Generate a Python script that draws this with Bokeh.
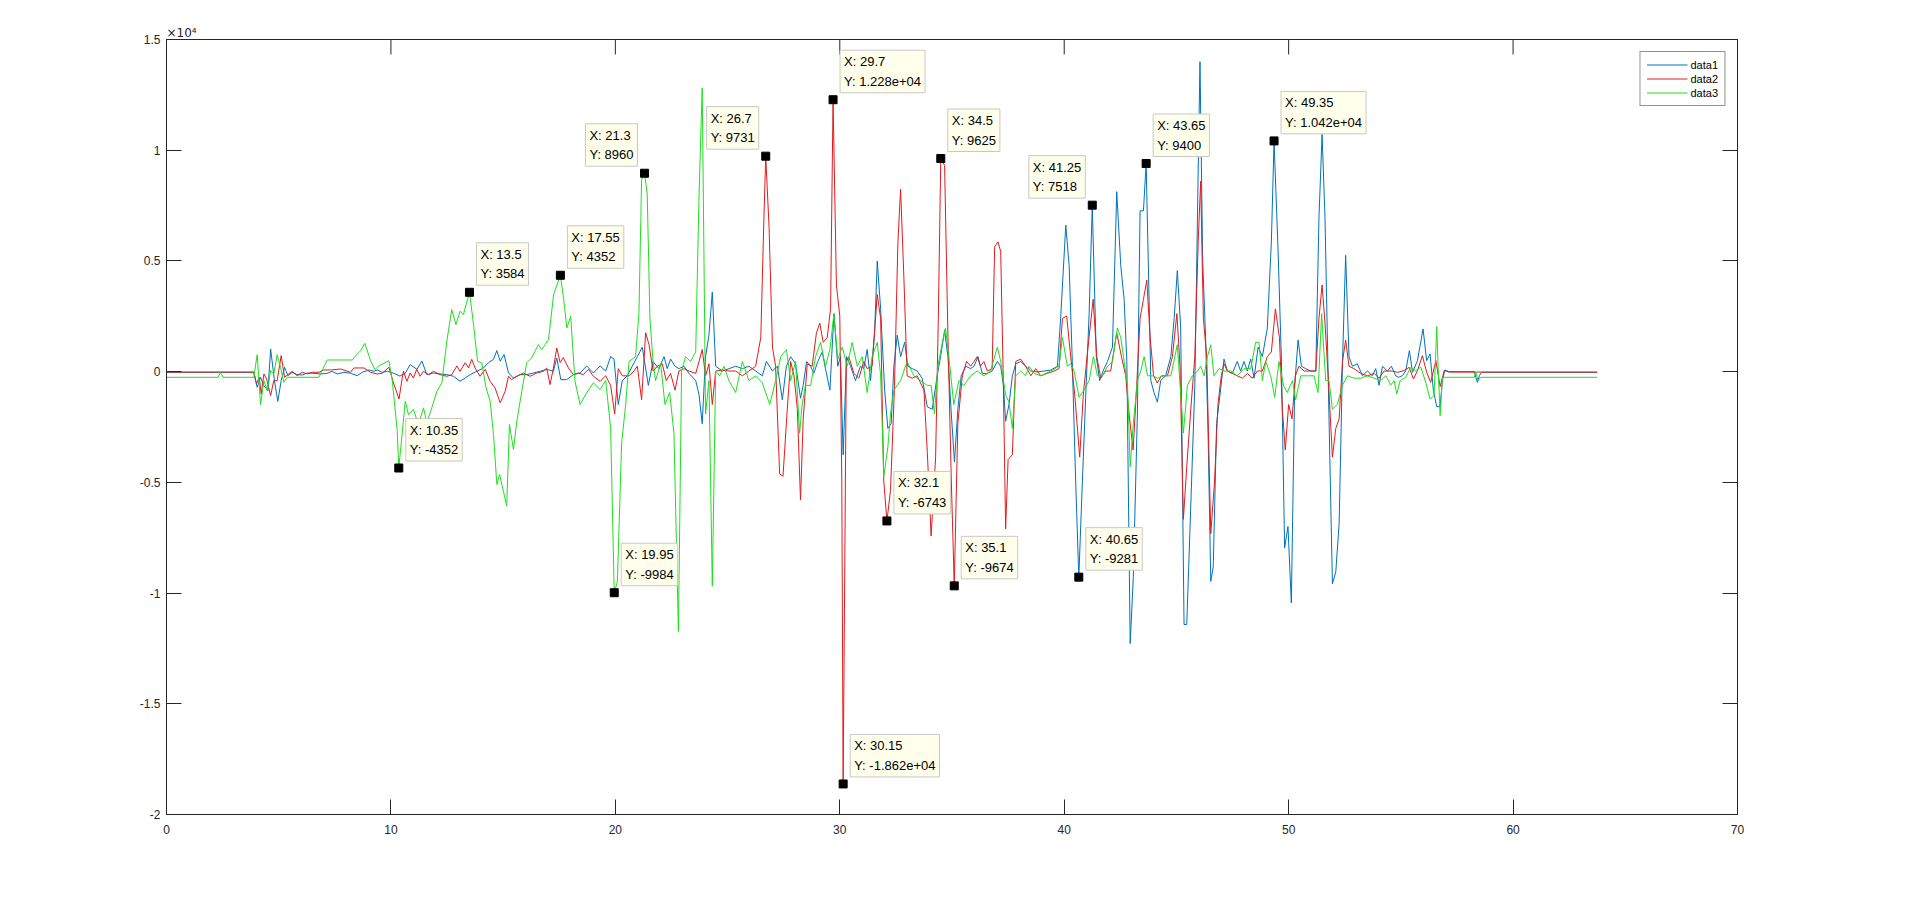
import math
from bokeh.plotting import figure
from bokeh.models import (Range1d, FixedTicker, LinearAxis, CustomJSTickFormatter,
                          ColumnDataSource, Legend)
from bokeh.core.properties import value
from bokeh.embed import file_html
from bokeh.resources import INLINE

# ---------------- data ----------------
d1_x = [0, 3.89, 4.04, 4.19, 4.34, 4.52, 4.64, 4.81, 4.96, 5.11, 5.26, 5.41, 5.6, 5.82, 6.05, 6.27,
        6.57, 6.86, 7.16, 7.38, 7.61, 7.9, 8.2, 8.5, 8.72, 9.02, 9.24, 9.39, 9.61, 9.84, 10.13, 10.4,
        10.64, 10.86, 11.16, 11.38, 11.6, 11.9, 12.19, 12.49, 12.79, 13.08, 13.31, 13.53, 13.83, 14.12,
        14.35, 14.57, 14.72, 14.87, 15.04, 15.24, 15.46, 15.76, 16.05, 16.35, 16.65, 16.94, 17.24, 17.39,
        17.57, 17.83, 18.13, 18.43, 18.72, 19.02, 19.32, 19.57, 19.79, 19.94, 20.13, 20.31, 20.53, 20.75,
        20.98, 21.2, 21.47, 21.68, 21.94, 22.17, 22.31, 22.46, 22.66, 22.83, 23.06, 23.28, 23.58, 23.73,
        23.87, 24.02, 24.17, 24.32, 24.47, 24.77, 25.06, 25.36, 25.66, 25.95, 26.25, 26.55, 26.73, 27.0,
        27.22, 27.44, 27.62, 27.81, 28.03, 28.25, 28.37, 28.52, 28.7, 28.84, 29.02, 29.22, 29.36, 29.56,
        29.74, 29.91, 30.03, 30.15, 30.3, 30.48, 30.7, 30.92, 31.07, 31.22, 31.37, 31.55, 31.67, 31.82,
        32.0, 32.14, 32.29, 32.41, 32.56, 32.71, 32.89, 33.03, 33.23, 33.45, 33.67, 33.9, 34.12, 34.34,
        34.49, 34.67, 34.82, 34.97, 35.11, 35.26, 35.41, 35.61, 35.83, 35.98, 36.16, 36.35, 36.57, 36.79,
        37.02, 37.17, 37.29, 37.39, 37.54, 37.69, 37.84, 38.06, 38.28, 38.51, 38.8, 39.1, 39.4, 39.7,
        39.84, 40.07, 40.22, 40.36, 40.51, 40.65, 40.81, 40.96, 41.11, 41.25, 41.43, 41.58, 41.73, 41.93,
        42.15, 42.34, 42.52, 42.67, 42.79, 42.94, 43.08, 43.26, 43.38, 43.53, 43.65, 43.86, 44.0, 44.15,
        44.3, 44.52, 44.75, 44.9, 45.04, 45.19, 45.34, 45.46, 45.64, 45.82, 45.97, 46.05, 46.17, 46.3,
        46.41, 46.53, 46.64, 46.79, 46.94, 47.12, 47.27, 47.49, 47.71, 47.86, 48.01, 48.16, 48.31, 48.46,
        48.64, 48.83, 49.05, 49.23, 49.35, 49.53, 49.68, 49.82, 49.97, 50.12, 50.27, 50.42, 50.57, 50.76,
        50.98, 51.21, 51.35, 51.49, 51.62, 51.76, 51.95, 52.1, 52.25, 52.4, 52.54, 52.69, 52.84, 53.06,
        53.29, 53.51, 53.73, 53.88, 54.03, 54.18, 54.4, 54.58, 54.77, 54.9, 55.07, 55.22, 55.38, 55.52,
        55.74, 55.99, 56.15, 56.3, 56.45, 56.6, 56.75, 56.85, 56.96, 57.15, 58.27, 58.34, 58.41, 58.5,
        58.59, 63.75]
d1_y = [-30, -30, -708, -256, -633, -858, 1024, -407, -1340, -407, 196, -181, -30, -136, -151, -60,
        -75, -105, -75, 15, -105, -30, -75, -181, -30, 75, 15, 75, -30, 15, -75, -200,
        -60, 316, 105, 481, -135, -60, -105, -135, -210, -436, -286, -135, 15, 165,
        406, 557, 952, 471, 772, -60, -286, -135, -135, -60, 15, 105, 15, 617,
        -361, -361, -135, -60, 256, -60, 256, 28, 676, 568, -1484, -404, -188, 244,
        676, 1108, -620, 460, 136, 676, 136, 568, 244, 136, 244, -80, -404, -1052,
        -2348, 676, 1648, 3592, 244, 28, 136, 244, 136, 244, 28, -188, 460, 28,
        244, -1268, 244, 676, 352, -1200, -620, 460, 244, -80, 460, 892, 136, -836,
        2620, 244, 676, -3752, 676, 244, -404, 244, 136, 1000, -404, 1756, 4996, 2836,
        -836, -2564, -2348, 244, 1648, 676, 1324, 244, 136, 28, -296, -1592, -1700, -188,
        676, 1864, 676, -1916, -4076, -1700, -188, 244, 136, 244, 676, -80, -80, 28,
        460, 244, -620, -2240, -1484, -188, 352, 460, 244, 28, -15, 28, 72, 244,
        2404, 6616, 4780, 460, -4940, -9281, -4940, -1052, 2620, 7518, 676, -404, 28, 460,
        1108, 8128, 4780, 3268, 460, -12284, -9260, -1916, 7264, 7264, 9400, -404, -944, -1376,
        -404, -188, 676, 2404, 4564, 1972, -11420, -11420, -6020, -620, 9100, 14000, 5000, 1540,
        -2780, -9476, -8828, -2348, -1052, 568, 28, -80, 460, 28, 460, 28, 568, -296,
        1108, 676, 1972, 5860, 10420, 5428, 460, -7964, -6992, -10448, -620, 1432, 244, 136,
        28, 28, 6940, 10720, 6940, -188, -9584, -9044, -6884, 460, 5255, 676, 244, 352,
        -188, 28, -188, 136, -620, 244, 28, 244, -188, -256, -181, 45, 949, -30,
        497, 1928, 497, 798, -858, -1581, -1581, -407, 75, 0, 0, -256, -482, -181,
        -30, -30]

d2_x = [0, 3.89, 4.01, 4.13, 4.22, 4.34, 4.46, 4.64, 4.78, 4.93, 5.11, 5.26, 5.45, 5.6, 5.82, 6.05,
        6.27, 6.49, 6.79, 7.01, 7.31, 7.76, 8.2, 8.35, 8.8, 9.09, 9.39, 9.61, 9.91, 10.13, 10.36, 10.5,
        10.56, 10.71, 10.86, 11.0, 11.15, 11.3, 11.45, 11.68, 11.9, 12.19, 12.49, 12.71, 12.94, 13.08,
        13.31, 13.46, 13.6, 13.75, 13.97, 14.2, 14.42, 14.64, 14.87, 15.09, 15.24, 15.38, 15.61, 15.9,
        16.2, 16.5, 16.79, 16.94, 17.09, 17.24, 17.39, 17.54, 17.68, 17.91, 18.13, 18.35, 18.57, 18.8,
        19.02, 19.32, 19.57, 19.79, 19.97, 20.13, 20.31, 20.61, 20.83, 20.98, 21.17, 21.35, 21.5, 21.68,
        21.87, 22.09, 22.27, 22.46, 22.66, 22.83, 23.06, 23.28, 23.58, 23.73, 23.87, 24.02, 24.17, 24.32,
        24.47, 24.77, 25.06, 25.36, 25.66, 25.95, 26.25, 26.48, 26.62, 26.7, 26.85, 27.0, 27.14, 27.32,
        27.47, 27.66, 27.81, 27.96, 28.11, 28.25, 28.37, 28.55, 28.77, 28.96, 29.11, 29.26, 29.44, 29.59,
        29.7, 29.85, 30.0, 30.09, 30.15, 30.29, 30.4, 30.63, 30.85, 31.07, 31.22, 31.44, 31.67, 31.82,
        31.96, 32.1, 32.26, 32.44, 32.59, 32.71, 32.86, 33.0, 33.23, 33.45, 33.75, 33.9, 34.07, 34.27,
        34.39, 34.5, 34.67, 34.82, 34.97, 35.1, 35.26, 35.46, 35.65, 35.83, 35.98, 36.12, 36.27, 36.42,
        36.57, 36.79, 36.9, 37.05, 37.17, 37.29, 37.39, 37.5, 37.69, 37.84, 38.06, 38.28, 38.51, 38.73,
        38.95, 39.25, 39.55, 39.77, 39.92, 40.11, 40.29, 40.47, 40.69, 40.85, 41.06, 41.29, 41.45, 41.63,
        41.85, 42.07, 42.34, 42.55, 42.74, 42.89, 43.07, 43.23, 43.38, 43.53, 43.68, 43.83, 43.98, 44.15,
        44.33, 44.6, 44.82, 45.02, 45.16, 45.31, 45.46, 45.64, 45.82, 45.97, 46.08, 46.2, 46.35, 46.53,
        46.7, 46.85, 47.0, 47.12, 47.27, 47.49, 47.71, 47.94, 48.16, 48.38, 48.61, 48.83, 49.05, 49.23,
        49.41, 49.59, 49.72, 49.85, 50.0, 50.15, 50.3, 50.46, 50.69, 50.91, 51.21, 51.35, 51.49, 51.62,
        51.76, 51.95, 52.1, 52.25, 52.4, 52.54, 52.69, 52.91, 53.21, 53.51, 53.81, 54.03, 54.25, 54.62,
        54.85, 55.14, 55.37, 55.56, 55.74, 55.96, 56.15, 56.33, 56.56, 56.75, 56.93, 57.15, 63.75]
d2_y = [-20, -20, -557, -256, -1009, -105, -331, -1084, -407, -407, 723, -256, -105, 15, -181, -30,
        -105, -30, -30, 75, 75, 120, -30, 166, 166, -30, -105, -75, 196, -557, -1235, -300,
        15, -436, -60, -286, 105, -210, 15, -135, 15, -135, -210, -135, 256, 15,
        406, 165, 557, 165, -210, 105, -436, -737, -1409, -887, -210, -361, -210, -60,
        -210, -60, 15, 165, -587, 165, 1067, 406, 632, 165, -135, -60, -135, 105,
        -210, -436, -188, -620, -1916, 136, -188, -188, 28, 244, -1268, 1756, 1216, 28,
        244, 352, -404, -80, -836, 28, 136, 28, -80, 460, 1000, -188, 352, -1484,
        28, 72, 28, 28, -188, 28, 244, 1540, 6940, 9731, 6508, 1108, 244, -4616,
        -4724, -1700, 460, -188, -1700, -5800, -2132, 352, 244, 1756, 2188, 1324, 1540, 2836,
        12280, 3916, 2512, -4940, -18620, 460, 676, -80, -296, 460, 136, 244, 3484, 2404,
        -4940, -6743, -5372, -620, 5860, 8236, 4132, -188, -296, -188, -836, -3644, -7424, -3860,
        2404, 9625, 9316, 1540, -4940, -9674, -2348, -188, 460, 244, 460, 676, 244, 460,
        28, 136, 5644, 5860, 5428, -620, -7100, -3968, -3752, 460, 568, 244, -188, 136,
        -188, -80, 28, 136, 2404, 2512, 676, -1052, -3860, -1052, 1108, 3268, 676, -296,
        28, 28, 1756, 676, -188, -1916, -3536, -620, 2404, 3268, 4132, 1540, -188, -512,
        -188, -188, 676, 2620, 244, -6668, -4292, -1700, 676, 5860, 8600, 2404, 676, -7316,
        -4940, -1484, -188, 352, 28, -80, -188, -296, -80, -296, 28, 28, 676, 892,
        2836, 1540, -1700, -3536, -1484, -2132, -188, 244, 28, 28, 28, 2404, 3916, 2188,
        -188, -3860, -2564, -2132, 460, 1432, 244, 136, -80, -188, -80, -296, 28, 28,
        -30, 45, 196, -331, 45, 723, -30, -482, 497, -678, 45, -20, -20]

d3_x = [0, 2.3, 2.41, 2.52, 3.89, 4.04, 4.19, 4.34, 4.49, 4.64, 4.78, 4.93, 5.08, 5.23, 5.38, 6.79,
        7.16, 8.28, 8.5, 8.65, 8.84, 9.09, 9.29, 9.47, 9.69, 9.91, 10.06, 10.28, 10.35, 10.64, 10.78, 11.0,
        11.23, 11.45, 11.6, 11.82, 12.05, 12.27, 12.49, 12.71, 12.9, 13.08, 13.23, 13.5, 13.68, 13.86,
        14.05, 14.24, 14.42, 14.57, 14.72, 14.84, 15.01, 15.16, 15.28, 15.46, 15.61, 15.83, 16.05, 16.27,
        16.42, 16.57, 16.72, 16.87, 17.02, 17.25, 17.55, 17.69, 17.84, 18.01, 18.2, 18.43, 18.72, 19.02,
        19.32, 19.57, 19.79, 19.95, 20.09, 20.28, 20.46, 20.61, 20.9, 21.05, 21.17, 21.3, 21.42, 21.54,
        21.68, 21.79, 22.02, 22.21, 22.42, 22.61, 22.81, 22.95, 23.13, 23.35, 23.58, 23.73, 23.87, 24.02,
        24.17, 24.32, 24.47, 24.65, 24.84, 25.06, 25.36, 25.66, 25.95, 26.25, 26.55, 26.88, 27.14, 27.37,
        27.62, 27.81, 28.03, 28.21, 28.32, 28.47, 28.7, 28.92, 29.14, 29.36, 29.56, 29.74, 29.91, 30.11,
        30.33, 30.55, 30.78, 31.0, 31.22, 31.44, 31.67, 31.82, 31.96, 32.14, 32.26, 32.41, 32.71, 33.0,
        33.3, 33.6, 33.9, 34.07, 34.22, 34.37, 34.57, 34.71, 34.86, 35.08, 35.31, 35.53, 35.83, 36.12,
        36.42, 36.72, 37.02, 37.17, 37.39, 37.54, 37.69, 37.84, 38.06, 38.28, 38.43, 38.66, 38.95, 39.4,
        39.77, 39.92, 40.14, 40.29, 40.44, 40.66, 40.88, 41.11, 41.3, 41.48, 41.7, 41.93, 42.15, 42.37,
        42.52, 42.67, 42.82, 42.94, 43.08, 43.26, 43.41, 43.56, 43.71, 43.93, 44.15, 44.45, 44.75, 45.04,
        45.31, 45.49, 45.71, 45.94, 46.08, 46.23, 46.38, 46.53, 46.67, 46.9, 47.12, 47.42, 47.71, 48.01,
        48.31, 48.53, 48.68, 48.83, 48.98, 49.2, 49.38, 49.57, 49.77, 49.94, 50.17, 50.31, 50.54, 50.83,
        51.13, 51.31, 51.47, 51.65, 51.8, 51.95, 52.17, 52.4, 52.62, 52.91, 53.21, 53.51, 53.81, 54.1,
        54.33, 54.55, 54.7, 54.82, 54.97, 55.22, 55.44, 55.66, 55.89, 56.11, 56.3, 56.48, 56.6, 56.66,
        56.75, 56.85, 58.27, 58.34, 58.44, 58.56, 63.75]
d3_y = [-256, -256, -30, -256, -256, 768, -1491, -407, -858, 45, -105, 768, 196, -482, -256, -256,
        527, 527, 798, 949, 1280, 497, 90, 271, 377, 497, -407, -2666, -4352, -1334, -1935, -1710,
        -2387, -1635, -2312, -1635, -883, -507, 1373, 2802, 2125, 2727, 2577, 3584, 2125, 470,
        395, -733, -1334, -2838, -5094, -4643, -5395, -6072, -2387, -3515, -2236, -883, 395, 621,
        922, 1223, 997, 1223, 1448, 3479, 4352, 3328, 1975, 2502, -432, -1485, -958, -507,
        -808, -404, -2564, -9984, -9476, -3212, -1484, 460, 676, 2620, 8668, 8960, 8020, 2404,
        460, -404, 356, -1484, -944, -2780, -11744, 28, 676, 460, 892, 8020, 12815, -1916,
        -404, -9692, 28, -188, 244, -404, -944, 460, -404, -188, -512, -1484, -404, 676,
        1000, -404, 460, -2780, -1500, -620, -620, 676, 1324, 244, 1000, 2620, 568, 1108,
        244, 1324, 244, 676, -944, 676, 1324, -188, -4724, -3428, -1916, -836, -404, 460,
        -188, -404, -620, -620, -1916, 244, 1324, 1972, 676, -1484, -404, -620, -188, 28,
        -188, 28, 1108, 460, -1052, -1376, -2564, -188, 28, -188, 244, -80, -188, 28,
        244, 1540, 244, 352, 28, -1160, -836, -404, 676, -188, -188, 244, 460, 1972,
        1540, 460, -620, -4292, -2348, -404, 28, 676, -188, -188, -296, -188, -188, 1216,
        -2780, -620, -188, 28, 244, -188, 676, 1216, -188, 136, 28, 28, -188, 136,
        136, 1324, 1324, -404, 460, -188, -1160, 460, -620, -944, -404, -1268, -188, -188,
        -188, -944, 2620, -404, -404, -1700, -1484, -620, -188, -296, -296, -188, -296, -404,
        -188, -600, -407, -1009, -407, -256, 196, 45, 196, -482, -1235, -1084, 2033, 196,
        -1988, -256, -256, -30, -407, -256, -256]

series_names = ["data1", "data2", "data3"]
series_colors = ["#0072BD", "#E31A1C", "#1EE01E"]

tip_x = [10.35, 13.5, 17.55, 19.95, 21.3, 26.7, 29.7, 30.15, 32.1, 34.5, 35.1, 40.65, 41.25, 43.65, 49.35]
tip_y = [-4352, 3584, 4352, -9984, 8960, 9731, 12280, -18620, -6743, 9625, -9674, -9281, 7518, 9400, 10420]
tips_on_left = [21.3, 26.7, 41.25]

x_ticks = [0, 10, 20, 30, 40, 50, 60, 70]
y_ticks = [-20000, -15000, -10000, -5000, 0, 5000, 10000, 15000]
exponent_text = "\u00d710\u2074"

# ---------------- figure ----------------
FONT = "Liberation Sans"
AX = "#262626"

p = figure(frame_width=1571, frame_height=775,
           x_range=Range1d(0, 70), y_range=Range1d(-20000, 15000),
           output_backend="svg", toolbar_location=None,
           min_border_left=166, min_border_top=39, min_border_right=171, min_border_bottom=60,
           background_fill_color="white", border_fill_color="white")
p.grid.visible = False
p.outline_line_color = AX
p.outline_line_width = 1

# exponent note "x10^4" above the top-left corner
p.title.text = exponent_text
p.title.text_font = "DejaVu Sans"
p.title.text_font_size = "12px"
p.title.text_font_style = "normal"
p.title.text_color = AX
p.title.align = "left"
p.title.offset = 0
p.title.standoff = 0

def style_axis(ax, labels=True, standoff=6):
    ax.axis_line_color = AX
    ax.major_tick_line_color = AX
    ax.major_tick_in = 15
    ax.major_tick_out = 0
    ax.minor_tick_line_color = None
    ax.major_label_text_font = FONT
    ax.major_label_text_font_size = "12px"
    ax.major_label_text_color = AX if labels else None
    ax.major_label_standoff = standoff

p.xaxis.ticker = FixedTicker(ticks=x_ticks)
p.yaxis.ticker = FixedTicker(ticks=y_ticks)
p.yaxis.formatter = CustomJSTickFormatter(code="return (tick/1e4).toString();")
style_axis(p.xaxis[0], True, 10)
style_axis(p.yaxis[0], True, 6)

right_ax = LinearAxis(ticker=FixedTicker(ticks=y_ticks))
style_axis(right_ax, False, 0)
p.add_layout(right_ax, "right")

# mirrored ticks along the top edge (half of each dash is clipped by the frame)
p.scatter(x_ticks, [p.y_range.end] * len(x_ticks), marker="dash", angle=math.pi / 2,
          size=30, line_color=AX, line_width=1)

# ---------------- series ----------------
items = []
for name, xs, ys, col in zip(series_names, [d1_x, d2_x, d3_x], [d1_y, d2_y, d3_y], series_colors):
    r = p.line(xs, ys, line_color=col, line_width=1)
    items.append((name, [r]))

legend = Legend(items=items, location="top_right", margin=12,
                label_text_font=FONT, label_text_font_size="11px", label_text_color="black",
                glyph_width=41, glyph_height=13, label_height=13, label_standoff=3,
                spacing=1, padding=6, border_line_color=AX, border_line_width=1,
                background_fill_color="white", background_fill_alpha=1.0)
p.add_layout(legend, "center")

# ---------------- data tips ----------------
def tip_text(x, y):
    return "X: %s\nY: %s" % (format(x, "g"), format(y, ".4g"))

right_src = ColumnDataSource(dict(
    x=[x for x in tip_x if x not in tips_on_left],
    y=[y for x, y in zip(tip_x, tip_y) if x not in tips_on_left],
    t=[tip_text(x, y) for x, y in zip(tip_x, tip_y) if x not in tips_on_left]))
left_src = ColumnDataSource(dict(
    x=[x for x in tip_x if x in tips_on_left],
    y=[y for x, y in zip(tip_x, tip_y) if x in tips_on_left],
    t=[tip_text(x, y) for x, y in zip(tip_x, tip_y) if x in tips_on_left]))

box_style = dict(text_font=value(FONT), text_font_size=value("13px"), text_color="black",
                 text_line_height=1.3, padding=4,
                 background_fill_color="#FFFFEB", border_line_color="#C8C8C8",
                 border_line_width=1)
p.text(x="x", y="y", text="t", source=right_src, anchor="bottom_left",
       x_offset=7, y_offset=-7, text_align="left", **box_style)
p.text(x="x", y="y", text="t", source=left_src, anchor="bottom_right",
       x_offset=-7, y_offset=-7, text_align="left", **box_style)

p.scatter(tip_x, tip_y, marker="square", size=8, fill_color="black", line_color="black")

open("out.html", "w").write(file_html(p, INLINE))
